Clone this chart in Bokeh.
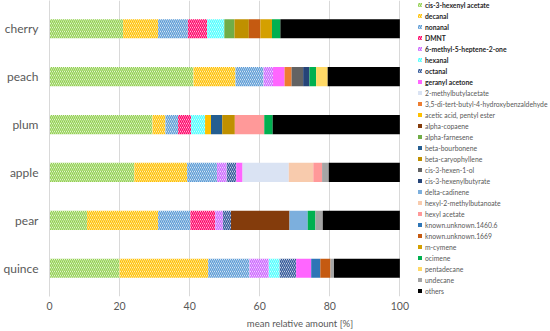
from bokeh.plotting import figure
from bokeh.models import Legend, LegendItem, ColumnDataSource, FixedTicker, FactorRange
from bokeh.transform import stack
from bokeh.embed import file_html
from bokeh.resources import INLINE

fruits = ["cherry", "peach", "plum", "apple", "pear", "quince"]

# values per fruit (cherry, peach, plum, apple, pear, quince), mean relative amount [%]
cis3_hexenyl_acetate = [21.0, 41.1, 29.4, 24.2, 10.7, 20.0]
decanal = [10.0, 12.0, 3.7, 15.1, 20.3, 25.3]
nonanal = [8.5, 8.0, 3.6, 8.5, 9.2, 11.8]
dmnt = [5.5, 0, 3.7, 0, 7.1, 0]
methyl_heptenone = [0, 2.7, 0, 2.8, 2.2, 5.5]
hexanal = [4.9, 0, 4.0, 0, 0, 3.1]
octanal = [0, 0, 0, 2.7, 2.3, 4.7]
geranyl_acetone = [0, 3.3, 0, 1.8, 0, 4.3]
methylbutylacetate = [0, 0, 0, 13.2, 0, 0]
di_tert_butyl = [0, 2.0, 0, 0, 0, 0]
pentyl_acetate = [0, 0, 1.7, 0, 0, 0]
alpha_copaene = [0, 0, 0, 0, 16.7, 0]
alpha_farnesene = [2.9, 0, 0, 0, 0, 0]
beta_bourbonene = [0, 0, 3.2, 0, 0, 0]
beta_caryophyllene = [4.1, 0, 3.6, 0, 0, 0]
cis3_hexen_1_ol = [0, 3.3, 0, 0, 0, 0]
cis3_hexenylbutyrate = [0, 1.8, 0, 0, 0, 0]
delta_cadinene = [0, 0, 0, 0, 5.2, 0]
hexyl_methylbutanoate = [0, 0, 0, 7.0, 0, 0]
hexyl_acetate = [0, 0, 8.4, 2.5, 0, 0]
known_1460 = [0, 0, 0, 0, 0, 2.6]
known_1669 = [3.3, 0, 0, 0, 0, 2.9]
m_cymene = [3.3, 0, 0, 0, 0, 0]
ocimene = [2.4, 1.9, 2.4, 0, 2.2, 0]
pentadecane = [0, 3.3, 0, 0, 0, 0]
undecane = [0, 0, 0, 1.9, 2.1, 1.0]
others = [34.1, 20.6, 36.3, 20.3, 22.0, 18.8]

x_ticks = [0, 20, 40, 60, 80, 100]

series = [
    ("cis-3-hexenyl acetate", cis3_hexenyl_acetate, "#92D050", True),
    ("decanal", decanal, "#FFC000", True),
    ("nonanal", nonanal, "#5B9BD5", True),
    ("DMNT", dmnt, "#FF0066", True),
    ("6-methyl-5-heptene-2-one", methyl_heptenone, "#CC66FF", True),
    ("hexanal", hexanal, "#4DFFFF", True),
    ("octanal", octanal, "#2F5597", True),
    ("geranyl acetone", geranyl_acetone, "#FF66FF", False),
    ("2-methylbutylacetate", methylbutylacetate, "#DAE3F3", False),
    ("3,5-di-tert-butyl-4-hydroxybenzaldehyde", di_tert_butyl, "#ED7D31", False),
    ("acetic acid, pentyl ester", pentyl_acetate, "#FFC000", False),
    ("alpha-copaene", alpha_copaene, "#843C0C", False),
    ("alpha-farnesene", alpha_farnesene, "#70AD47", False),
    ("beta-bourbonene", beta_bourbonene, "#255E91", False),
    ("beta-caryophyllene", beta_caryophyllene, "#BF9000", False),
    ("cis-3-hexen-1-ol", cis3_hexen_1_ol, "#636363", False),
    ("cis-3-hexenylbutyrate", cis3_hexenylbutyrate, "#264478", False),
    ("delta-cadinene", delta_cadinene, "#7CAFDD", False),
    ("hexyl-2-methylbutanoate", hexyl_methylbutanoate, "#F8CBAD", False),
    ("hexyl acetate", hexyl_acetate, "#FF9999", False),
    ("known.unknown.1460.6", known_1460, "#2E75B6", False),
    ("known.unknown.1669", known_1669, "#C55A11", False),
    ("m-cymene", m_cymene, "#D4A000", False),
    ("ocimene", ocimene, "#00B050", False),
    ("pentadecane", pentadecane, "#FFD966", False),
    ("undecane", undecane, "#A5A5A5", False),
    ("others", others, "#000000", False),
]

data = {"fruit": fruits}
keys = []
for i, (name, vals, col, hat) in enumerate(series):
    k = "s%d" % i
    data[k] = vals
    keys.append(k)
source = ColumnDataSource(data)


def style_kw(col, hat):
    if hat:
        return dict(fill_color="white", hatch_pattern="\\", hatch_color=col,
                    hatch_scale=4, hatch_weight=1.4, line_color=None)
    return dict(fill_color=col, line_color=None)


y_range = FactorRange(factors=fruits[::-1], range_padding=0.09,
                      range_padding_units="absolute")

# the plot frame also spans the legend area on the right (x axis stops at 100)
p = figure(width=550, height=331, y_range=y_range, x_range=(0, 143),
           output_backend="svg", toolbar_location=None,
           min_border_left=49, min_border_right=0, min_border_top=0, min_border_bottom=0)
p.outline_line_color = None

items = []
for i, (name, vals, col, hat) in enumerate(series):
    r = p.hbar(y="fruit", height=0.4, left=stack(*keys[:i]), right=stack(*keys[:i + 1]),
               source=source, **style_kw(col, hat))
    items.append(LegendItem(label=name, renderers=[r]))

p.xaxis.ticker = FixedTicker(ticks=x_ticks)
p.xaxis.bounds = (0, 100)
p.xaxis.axis_label = "mean relative amount [%]"
p.xaxis.axis_line_color = None
p.xaxis.major_tick_line_color = None
p.xaxis.minor_tick_line_color = None
p.xaxis.major_tick_out = 0
p.xaxis.major_tick_in = 0
p.xaxis.minor_tick_out = 0
p.xaxis.major_label_standoff = 5
p.xaxis.major_label_text_font = "Lato"
p.xaxis.major_label_text_font_size = "10.5px"
p.xaxis.major_label_text_color = "#595959"
p.xaxis.axis_label_text_font = "Lato"
p.xaxis.axis_label_text_font_size = "9.5px"
p.xaxis.axis_label_text_font_style = "normal"
p.xaxis.axis_label_text_color = "#595959"
p.xaxis.axis_label_standoff = 5

p.yaxis.axis_line_color = "#D9D9D9"
p.yaxis.major_tick_line_color = None
p.yaxis.minor_tick_line_color = None
p.yaxis.major_tick_out = 0
p.yaxis.major_tick_in = 0
p.yaxis.major_label_standoff = 11
p.yaxis.major_label_text_font = "Lato"
p.yaxis.major_label_text_font_size = "12px"
p.yaxis.major_label_text_color = "#595959"

p.xgrid.grid_line_color = "#D9D9D9"
p.ygrid.grid_line_color = None


def make_legend(its, loc, color, style):
    return Legend(items=its, location=loc, orientation="vertical",
                  label_text_font="Lato", label_text_font_size="6.8px",
                  label_text_color=color, label_text_font_style=style,
                  glyph_width=5, glyph_height=5, label_height=9, label_standoff=3,
                  spacing=2, padding=0, margin=0, border_line_color=None,
                  background_fill_alpha=0)


leg1 = make_legend(items[:8], (368, 210), "#262626", "bold")
leg2 = make_legend(items[8:], (368, 1), "#595959", "normal")
p.add_layout(leg1, "center")
p.add_layout(leg2, "center")

open("out.html", "w").write(file_html(p, INLINE))
